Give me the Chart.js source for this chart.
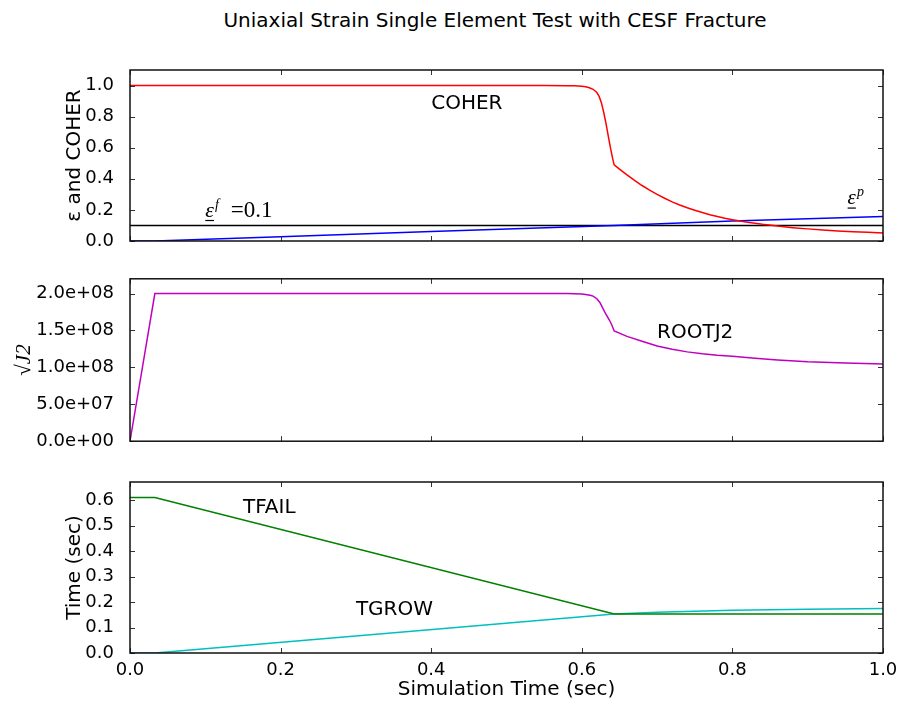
<!DOCTYPE html>
<html>
<head>
<meta charset="utf-8">
<script src="https://cdn.jsdelivr.net/npm/chart.js@4.4.0/dist/chart.umd.min.js"></script>
<style>
  html, body { margin: 0; padding: 0; background: #fff; }
  #fig { position: relative; width: 899px; height: 702px; overflow: hidden; }
  #fig canvas { position: absolute; left: 0; }
  #title { position: absolute; left: 95px; width: 800px; top: 8px; text-align: center;
           font: 20px "DejaVu Sans", sans-serif; color: #000; }
</style>
</head>
<body>
<div id="fig">
  <div id="title">Uniaxial Strain Single Element Test with CESF Fracture</div>
  <canvas id="c1" width="899" height="260" style="top:0px"></canvas>
  <canvas id="c2" width="899" height="200" style="top:260px"></canvas>
  <canvas id="c3" width="899" height="242" style="top:460px"></canvas>
</div>
<script>
// tick values
const X_TICKS = [0, 0.2, 0.4, 0.6, 0.8, 1.0];
const Y1_TICKS = [0, 0.2, 0.4, 0.6, 0.8, 1.0];
const Y2_TICKS = [0, 5e7, 1e8, 1.5e8, 2e8];
const Y3_TICKS = [0, 0.1, 0.2, 0.3, 0.4, 0.5, 0.6];

// panel 1: COHER, plastic strain, failure strain
const COHER_T = [0, 0.55, 0.58, 0.59, 0.60, 0.605, 0.61, 0.615, 0.62, 0.623, 0.626, 0.629, 0.632, 0.635,
                 0.638, 0.641, 0.643, 0.65, 0.66, 0.67, 0.68, 0.69, 0.70, 0.71, 0.72, 0.73, 0.74, 0.75,
                 0.76, 0.77, 0.78, 0.79, 0.80, 0.82, 0.84, 0.86, 0.88, 0.90, 0.92, 0.94, 0.96, 0.98, 1.0];
const COHER = [1.0, 1.0, 0.999, 0.998, 0.995, 0.992, 0.986, 0.976, 0.955, 0.93, 0.89, 0.83, 0.76, 0.68,
               0.60, 0.53, 0.49, 0.462, 0.425, 0.39, 0.357, 0.327, 0.30, 0.275, 0.252, 0.232, 0.214, 0.198,
               0.183, 0.169, 0.157, 0.146, 0.137, 0.121, 0.107, 0.096, 0.086, 0.078, 0.071, 0.065, 0.06, 0.056, 0.052];
const EPSP_T = [0, 0.033, 0.2, 0.4, 0.643, 0.8, 1.0];
const EPSP = [0, 0, 0.028, 0.061, 0.1, 0.128, 0.158];
const EPSF_T = [0, 1.0];
const EPSF = [0.1, 0.1];

// panel 2: ROOTJ2
const J2_T = [0, 0.033, 0.58, 0.59, 0.60, 0.605, 0.611, 0.615, 0.62, 0.624, 0.628, 0.632, 0.637, 0.640, 0.643,
              0.66, 0.68, 0.70, 0.72, 0.74, 0.76, 0.78, 0.80, 0.83, 0.86, 0.90, 0.95, 1.0];
const ROOTJ2 = [0, 2.0e8, 2.0e8, 1.998e8, 1.993e8, 1.988e8, 1.978e8, 1.965e8, 1.93e8, 1.88e8, 1.80e8,
                1.72e8, 1.635e8, 1.57e8, 1.493e8,
                1.42e8, 1.355e8, 1.29e8, 1.245e8, 1.21e8, 1.185e8, 1.165e8, 1.15e8, 1.125e8, 1.10e8,
                1.075e8, 1.058e8, 1.045e8];

// panel 3: TFAIL, TGROW
const TFAIL_T = [0, 0.033, 0.643, 1.0];
const TFAIL = [0.61, 0.61, 0.153, 0.153];
const TGROW_T = [0, 0.033, 0.425, 0.643, 0.7, 0.8, 0.9, 1.0];
const TGROW = [0, 0, 0.098, 0.153, 0.160, 0.168, 0.172, 0.175];

const SANS = '"DejaVu Sans", sans-serif';
const SERIF = '"Liberation Serif", "DejaVu Serif", serif';
const FS = 20;      // labels and titles
const TICK_FS = 18; // tick labels

function pts(xs, ys) { return xs.map((x, i) => ({ x, y: ys[i] })); }

function line(label, xs, ys, color) {
  return { label, data: pts(xs, ys), borderColor: color, borderWidth: 1.5,
           pointRadius: 0, tension: 0, fill: false };
}

// frame with inward ticks on all four sides (matplotlib look)
const frameTicks = {
  id: 'frameTicks',
  afterDatasetsDraw(chart) {
    const { ctx, chartArea: a, scales } = chart;
    ctx.save();
    ctx.strokeStyle = '#333';
    ctx.lineWidth = 1;
    const L = 5;
    scales.x.ticks.forEach(t => {
      const px = Math.round(scales.x.getPixelForValue(t.value)) + 0.5;
      ctx.beginPath();
      ctx.moveTo(px, a.bottom); ctx.lineTo(px, a.bottom - L);
      ctx.moveTo(px, a.top); ctx.lineTo(px, a.top + L);
      ctx.stroke();
    });
    scales.y.ticks.forEach(t => {
      const py = Math.round(scales.y.getPixelForValue(t.value)) + 0.5;
      ctx.beginPath();
      ctx.moveTo(a.left, py); ctx.lineTo(a.left + L, py);
      ctx.moveTo(a.right, py); ctx.lineTo(a.right - L, py);
      ctx.stroke();
    });
    ctx.strokeStyle = '#111';
    ctx.lineWidth = 1.5;
    ctx.strokeRect(a.left, a.top, a.right - a.left, a.bottom - a.top);
    ctx.restore();
  }
};

// text labels placed at data coordinates
const notes = {
  id: 'notes',
  afterDatasetsDraw(chart, args, opts) {
    const { ctx, scales } = chart;
    (opts.items || []).forEach(it => {
      let px = scales.x.getPixelForValue(it.x);
      const py = scales.y.getPixelForValue(it.y);
      ctx.save();
      ctx.fillStyle = '#000';
      ctx.textBaseline = 'alphabetic';
      ctx.textAlign = 'left';
      (it.parts || [{ text: it.text, font: FS + 'px ' + SANS }]).forEach(p => {
        ctx.font = p.font;
        ctx.fillText(p.text, px, py - (p.rise || 0));
        const w = ctx.measureText(p.text).width;
        if (p.under) {
          ctx.fillRect(px, py + 3, w, 1.2);
        }
        px += w + (p.gap || 0);
      });
      ctx.restore();
    });
  }
};

function options(cfg) {
  return {
    responsive: false,
    animation: false,
    devicePixelRatio: 1,
    layout: { padding: { left: 0, right: 16, top: cfg.padTop, bottom: cfg.padBottom } },
    plugins: { legend: { display: false }, tooltip: { enabled: false }, notes: { items: cfg.notes } },
    scales: {
      x: {
        type: 'linear', min: 0, max: 1.0,
        grid: { display: false }, border: { display: false },
        afterBuildTicks: s => { s.ticks = X_TICKS.map(v => ({ value: v })); },
        afterFit: s => { s.height = cfg.xHeight; },
        ticks: { display: cfg.xLabels, padding: -1, color: '#000', font: { family: SANS, size: TICK_FS },
                 callback: v => v.toFixed(1), maxRotation: 0 },
        title: { display: cfg.xLabels, text: 'Simulation Time (sec)', color: '#000',
                 font: { family: SANS, size: FS }, padding: { top: 0, bottom: 0 } }
      },
      y: {
        type: 'linear', min: 0, max: cfg.yMax,
        grid: { display: false }, border: { display: false },
        afterBuildTicks: s => { s.ticks = cfg.yTicks.map(v => ({ value: v })); },
        afterFit: s => { s.width = 130; },
        ticks: { padding: 8, color: '#000', font: { family: SANS, size: TICK_FS }, callback: cfg.fmt },
        title: { display: true, text: cfg.yTitle, color: '#000', font: cfg.yFont,
                 padding: { top: cfg.yTitlePad, bottom: 0 } }
      }
    }
  };
}

const fixed1 = v => Number(v).toFixed(1);
const sci = v => Number(v).toExponential(1).replace(/e([+-])(\d)$/, 'e$10$2');

new Chart(document.getElementById('c1'), {
  type: 'line',
  data: { datasets: [
    line('COHER', COHER_T, COHER, '#ff0000'),
    line('eps p', EPSP_T, EPSP, '#0000ff'),
    line('eps f', EPSF_T, EPSF, '#000000')
  ] },
  options: options({
    padTop: 70, padBottom: 19, xHeight: 0, xLabels: false, yMax: 1.1, yTicks: Y1_TICKS, fmt: fixed1,
    yTitle: 'ε and COHER', yFont: { family: SANS, size: FS }, yTitlePad: 63,
    notes: [
      { x: 0.4, y: 0.85, text: 'COHER' },
      { x: 0.1, y: 0.155, parts: [
        { text: 'ε', font: 'italic 22px ' + SERIF, under: true, gap: 1 },
        { text: 'f', font: 'italic 14px ' + SERIF, rise: 8, gap: 12 },
        { text: '=0.1', font: '23px ' + SERIF }
      ] },
      { x: 0.953, y: 0.235, parts: [
        { text: 'ε', font: 'italic 21px ' + SERIF, under: true, gap: 1 },
        { text: 'p', font: 'italic 14px ' + SERIF, rise: 8 }
      ] }
    ]
  }),
  plugins: [frameTicks, notes]
});

new Chart(document.getElementById('c2'), {
  type: 'line',
  data: { datasets: [ line('ROOTJ2', J2_T, ROOTJ2, '#bf00bf') ] },
  options: options({
    padTop: 16, padBottom: 13, xHeight: 0, xLabels: false, yMax: 2.2e8, yTicks: Y2_TICKS, fmt: sci,
    yTitle: '√J2', yFont: { family: SERIF, size: 21, style: 'italic' }, yTitlePad: 12,
    notes: [ { x: 0.7, y: 1.4e8, text: 'ROOTJ2' } ]
  }),
  plugins: [frameTicks, notes]
});

new Chart(document.getElementById('c3'), {
  type: 'line',
  data: { datasets: [
    line('TFAIL', TFAIL_T, TFAIL, '#008000'),
    line('TGROW', TGROW_T, TGROW, '#00bfbf')
  ] },
  options: options({
    padTop: 22, padBottom: 0, xHeight: 49, xLabels: true, yMax: 0.671, yTicks: Y3_TICKS, fmt: fixed1,
    yTitle: 'Time (sec)', yFont: { family: SANS, size: FS }, yTitlePad: 63,
    notes: [
      { x: 0.15, y: 0.55, text: 'TFAIL' },
      { x: 0.3, y: 0.15, text: 'TGROW' }
    ]
  }),
  plugins: [frameTicks, notes]
});
</script>
</body>
</html>
